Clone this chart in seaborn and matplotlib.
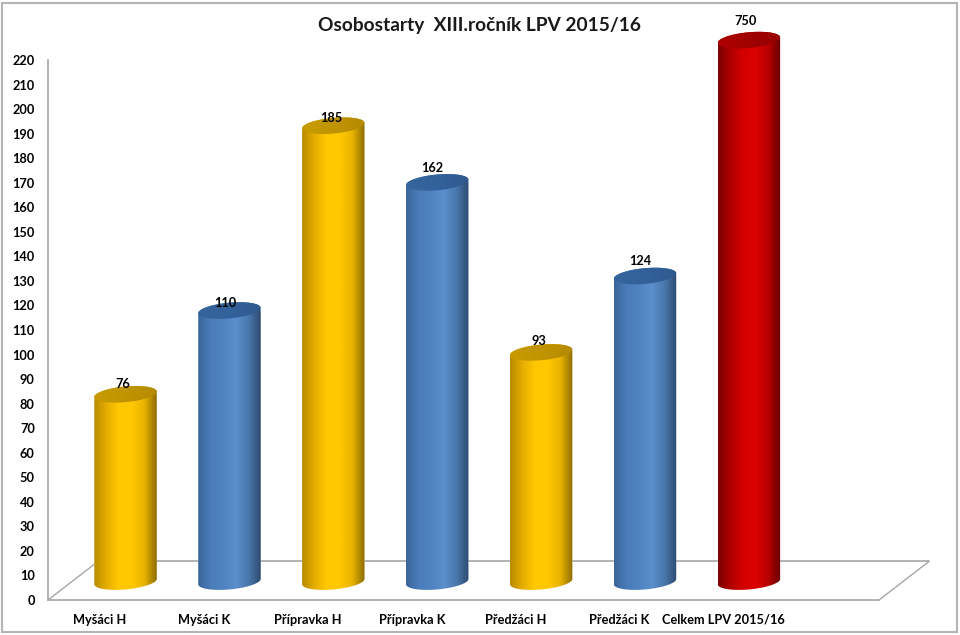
import numpy as np
import matplotlib
matplotlib.use("Agg")
import matplotlib.pyplot as plt
from matplotlib.colors import LinearSegmentedColormap
from matplotlib.patches import Polygon, Rectangle
import seaborn as sns

# Chart data
categories = ["Myšáci H", "Myšáci K", "Přípravka H", "Přípravka K", "Předžáci H", "Předžáci K", "Celkem LPV 2015/16"]
values = [76, 110, 185, 162, 93, 124, 750]
bar_groups = ["H", "K", "H", "K", "H", "K", "all"]
y_ticks = list(range(0, 230, 10))

# Label tweaks in pixels (dx, dy), excel does not place them evenly
label_nudge = [(-2.5, 10), (-3.7, 8), (-2.3, 7.5), (-5.2, 14.5), (-2.1, 11), (-4.3, 14.7), (-2.9, 19)]

# The red total does not fit the axis, so it runs off the top
axis_cap = 220.6
depth_scale = 1.004  # bars in the 3D view rise a touch faster than the axis
floor = 7.5  # bars stand on the 3D floor, above the zero line
semi_y = 3.2
tilt = 1.1
bar_width = 0.6

body_stops = {
    "H": ["#b88a00", "#e6ae00", "#ffc800", "#ffc800", "#e8b400", "#8c6c00"],
    "K": ["#3a6499", "#4a7cb8", "#4f82c0", "#5b8fcc", "#4a78ae", "#2c4a70"],
    "all": ["#7c0000", "#b00000", "#d40000", "#dc0000", "#b80000", "#640000"],
}
cap_stops = {
    "H": ["#c89c00", "#c09400", "#b58a00"],
    "K": ["#36659e", "#33619a", "#2f5a8e"],
    "all": ["#b00000", "#a00000", "#980000"],
}
base_colors = {"H": "#ffc800", "K": "#4f82c0", "all": "#d40000"}

sns.set_theme(style="white")
plt.rcParams["font.family"] = ["Lato", "DejaVu Sans"]

fig = plt.figure(figsize=(9.6, 6.35), dpi=100)
ax = fig.add_axes([48 / 960, 1 - 600 / 635, 831 / 960, 540 / 635])

heights = [min(v * depth_scale, axis_cap) for v in values]
sns.barplot(x=categories, y=heights, hue=bar_groups, palette=base_colors, legend=False,
            width=bar_width, bottom=floor, ax=ax, zorder=2)


def ring(cx, cy, half, start=0, stop=2 * np.pi):
    # sheared ellipse, left end lower than the right end
    t = np.linspace(start, stop, 80)
    return np.column_stack([cx + half * np.cos(t), cy + tilt * np.cos(t) + semi_y * np.sin(t)])


def shade(stops, pts, x0, x1, y0, y1, z):
    cmap = LinearSegmentedColormap.from_list("cyl", stops)
    im = ax.imshow(np.linspace(0, 1, 256).reshape(1, -1), cmap=cmap, aspect="auto",
                   extent=(x0, x1, y0, y1), zorder=z, interpolation="bilinear")
    im.set_clip_path(Polygon(pts, transform=ax.transData))
    im.set_clip_box(fig.bbox)


# paint each seaborn bar as a cylinder
for bar in list(ax.patches):
    half = bar.get_width() / 2
    cx = bar.get_x() + half
    i = int(round(cx))
    base = bar.get_y()
    top = base + bar.get_height()
    body = np.vstack([ring(cx, base, half, np.pi, 2 * np.pi), ring(cx, top, half, 0, np.pi)])
    bar.set_clip_path(Polygon(body, transform=ax.transData))
    bar.set_clip_box(fig.bbox)
    g = bar_groups[i]
    shade(body_stops[g], body, cx - half, cx + half, base - 6, top + 6, 3)
    shade(cap_stops[g], ring(cx, top, half), cx - half, cx + half, top - 6, top + 6, 4)
    ax.annotate(str(values[i]), (cx, top), xytext=label_nudge[i], textcoords="offset pixels",
                ha="center", va="center", fontsize=9.2, fontweight="bold", color="black",
                annotation_clip=False, zorder=6)

ax.set_xlim(-0.746, 7.252)
ax.set_ylim(0, 220)

# 3D floor
floor_color = "#a6a6a6"
back_y = 15.7
ax.plot([-0.265, 7.733], [back_y, back_y], color=floor_color, lw=1.2, clip_on=False, zorder=1)
ax.plot([-0.746, -0.265], [0, back_y], color=floor_color, lw=1.0, clip_on=False, zorder=1)
ax.plot([7.252, 7.733], [0, back_y], color=floor_color, lw=1.0, clip_on=False, zorder=1)

sns.despine(ax=ax)
for side in ["left", "bottom"]:
    ax.spines[side].set_color(floor_color)
    ax.spines[side].set_linewidth(1.2)

ax.set_yticks(y_ticks)
ax.set_xticks([i - 0.245 for i in range(len(categories))], categories)
ax.tick_params(axis="both", length=0, labelsize=9.2, labelcolor="black")
ax.tick_params(axis="y", pad=9.5)
ax.tick_params(axis="x", pad=10)
for lab in ax.get_xticklabels() + ax.get_yticklabels():
    lab.set_fontweight("bold")
ax.grid(False)

fig.text(479 / 960, 1 - 26 / 635, "Osobostarty  XIII.ročník LPV 2015/16", ha="center", va="center",
         fontsize=13.8, fontweight="bold", color="#1a1a1a")

fig.add_artist(Rectangle((1.5 / 960, 1 - 632 / 635), 955.5 / 960, 629 / 635, transform=fig.transFigure,
                         fill=False, edgecolor="#b4b4b4", lw=1.5))

fig.savefig("out.png", dpi=100)
